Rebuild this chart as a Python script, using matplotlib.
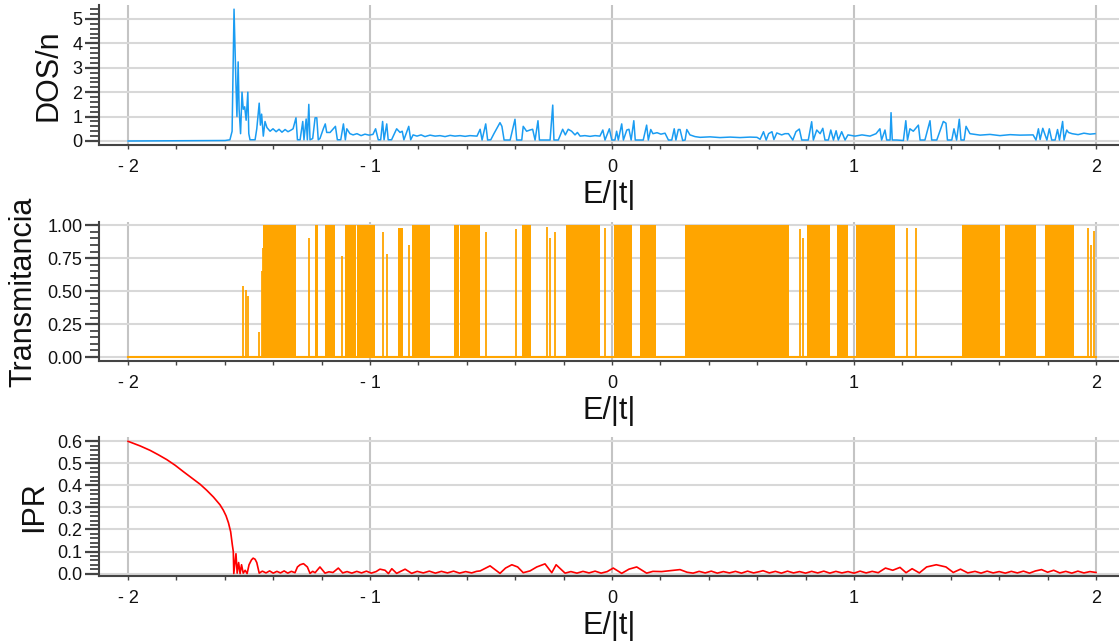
import matplotlib
matplotlib.use("Agg")
import matplotlib.pyplot as plt
from matplotlib.ticker import MultipleLocator, FixedLocator, FormatStrFormatter

plt.rcParams['font.family'] = ['Liberation Sans', 'DejaVu Sans']

# ---------------- data ----------------
x_ticks = [-2, -1, 0, 1, 2]
x_ticklabels = ["- 2", "- 1", "0", "1", "2"]

dos_E = [-2.000, -1.599, -1.579, -1.570, -1.562, -1.554, -1.550, -1.545, -1.541, -1.535,
         -1.529, -1.524, -1.518, -1.512, -1.505, -1.501, -1.496, -1.475, -1.468, -1.458,
         -1.453, -1.448, -1.441, -1.434, -1.426, -1.413, -1.401, -1.388, -1.376, -1.364,
         -1.351, -1.339, -1.326, -1.318, -1.306, -1.300, -1.289, -1.278, -1.273, -1.264,
         -1.259, -1.253, -1.248, -1.237, -1.227, -1.220, -1.214, -1.207, -1.193, -1.185,
         -1.179, -1.165, -1.152, -1.143, -1.135, -1.121, -1.110, -1.102, -1.096, -1.083,
         -1.070, -1.054, -1.037, -1.021, -1.004, -0.988, -0.977, -0.966, -0.956, -0.948,
         -0.942, -0.931, -0.925, -0.911, -0.890, -0.876, -0.867, -0.860, -0.840, -0.832,
         -0.822, -0.806, -0.789, -0.773, -0.752, -0.731, -0.711, -0.690, -0.669, -0.649,
         -0.628, -0.607, -0.587, -0.558, -0.545, -0.537, -0.522, -0.514, -0.501, -0.488,
         -0.463, -0.455, -0.446, -0.421, -0.401, -0.394, -0.373, -0.367, -0.353, -0.339,
         -0.328, -0.318, -0.306, -0.300, -0.277, -0.256, -0.245, -0.240, -0.222, -0.204,
         -0.193, -0.181, -0.167, -0.153, -0.143, -0.132, -0.112, -0.091, -0.070, -0.050,
         -0.038, -0.029, -0.011, -0.001, 0.012, 0.019, 0.026, 0.040, 0.047, 0.061,
         0.070, 0.079, 0.090, 0.096, 0.116, 0.129, 0.143, 0.150, 0.160, 0.169,
         0.186, 0.202, 0.219, 0.233, 0.247, 0.257, 0.264, 0.274, 0.281, 0.292,
         0.302, 0.309, 0.322, 0.343, 0.364, 0.405, 0.446, 0.488, 0.529, 0.570,
         0.599, 0.612, 0.626, 0.637, 0.647, 0.661, 0.669, 0.681, 0.701, 0.715,
         0.729, 0.747, 0.760, 0.774, 0.784, 0.798, 0.811, 0.825, 0.832, 0.846,
         0.860, 0.871, 0.880, 0.894, 0.904, 0.915, 0.926, 0.935, 0.949, 0.963,
         0.975, 1.004, 1.033, 1.066, 1.091, 1.107, 1.114, 1.128, 1.135, 1.149,
         1.153, 1.158, 1.177, 1.204, 1.214, 1.221, 1.231, 1.245, 1.266, 1.273,
         1.293, 1.314, 1.321, 1.342, 1.369, 1.380, 1.386, 1.404, 1.413, 1.424,
         1.435, 1.442, 1.455, 1.463, 1.479, 1.521, 1.562, 1.603, 1.645, 1.686,
         1.740, 1.752, 1.762, 1.769, 1.780, 1.797, 1.807, 1.817, 1.831, 1.841,
         1.849, 1.862, 1.868, 1.879, 1.886, 1.901, 1.926, 1.950, 1.975, 1.996]
dos_val = [0.00, 0.02, 0.05, 0.40, 5.40, 2.30, 1.00, 3.24, 1.30, 0.30,
           2.00, 1.30, 1.40, 0.85, 2.00, 0.30, 0.05, 0.05, 0.50, 1.55,
           0.65, 1.10, 0.20, 0.80, 0.55, 0.40, 0.50, 0.38, 0.48, 0.36,
           0.47, 0.38, 0.45, 0.50, 0.95, 0.05, 0.05, 0.80, 0.05, 0.90,
           0.05, 1.50, 0.05, 0.10, 0.95, 0.95, 0.05, 0.10, 0.50, 0.70,
           0.35, 0.35, 0.50, 0.60, 0.05, 0.05, 0.70, 0.05, 0.50, 0.30,
           0.25, 0.30, 0.22, 0.28, 0.24, 0.27, 0.50, 0.05, 0.05, 0.80,
           0.05, 0.70, 0.05, 0.05, 0.50, 0.35, 0.40, 0.05, 0.60, 0.05,
           0.25, 0.20, 0.25, 0.18, 0.24, 0.20, 0.22, 0.18, 0.23, 0.20,
           0.22, 0.19, 0.22, 0.20, 0.48, 0.04, 0.70, 0.04, 0.05, 0.30,
           0.75, 0.60, 0.04, 0.04, 0.89, 0.04, 0.04, 0.60, 0.40, 0.45,
           0.48, 0.04, 0.83, 0.04, 0.04, 0.04, 1.47, 0.04, 0.04, 0.48,
           0.25, 0.48, 0.40, 0.25, 0.35, 0.20, 0.22, 0.19, 0.22, 0.20,
           0.45, 0.04, 0.50, 0.04, 0.04, 0.40, 0.04, 0.70, 0.04, 0.45,
           0.48, 0.04, 0.83, 0.04, 0.04, 0.04, 0.65, 0.04, 0.47, 0.30,
           0.34, 0.28, 0.32, 0.04, 0.04, 0.50, 0.04, 0.47, 0.47, 0.02,
           0.04, 0.47, 0.25, 0.18, 0.15, 0.17, 0.14, 0.16, 0.14, 0.16,
           0.15, 0.07, 0.38, 0.04, 0.30, 0.38, 0.06, 0.33, 0.25, 0.30,
           0.30, 0.04, 0.38, 0.49, 0.04, 0.04, 0.04, 0.79, 0.04, 0.45,
           0.30, 0.52, 0.04, 0.04, 0.45, 0.04, 0.42, 0.04, 0.38, 0.04,
           0.25, 0.20, 0.25, 0.20, 0.30, 0.50, 0.04, 0.45, 0.04, 0.04,
           1.16, 0.04, 0.04, 0.02, 0.83, 0.04, 0.50, 0.40, 0.65, 0.04,
           0.04, 0.83, 0.04, 0.04, 0.80, 0.73, 0.04, 0.04, 0.50, 0.04,
           0.89, 0.04, 0.04, 0.60, 0.30, 0.24, 0.27, 0.22, 0.26, 0.24,
           0.25, 0.04, 0.50, 0.06, 0.52, 0.04, 0.50, 0.04, 0.04, 0.47,
           0.04, 0.80, 0.04, 0.45, 0.35, 0.30, 0.26, 0.32, 0.28, 0.30]

# transmittance: energy windows where T oscillates densely between 0 and its top value
T_band_start = [-1.441, -1.227, -1.186, -1.103, -1.055, -0.884, -0.827, -0.654, -0.630,
                -0.370, -0.190, 0.008, 0.115, 0.300, 0.805, 0.930, 1.010, 1.445, 1.625, 1.790]
T_band_end   = [-1.307, -1.215, -1.145, -1.057, -0.980, -0.865, -0.752, -0.633, -0.545,
                -0.335, -0.050, 0.083, 0.180, 0.730, 0.900, 0.975, 1.170, 1.605, 1.750, 1.910]
T_band_top   = [1.00, 1.00, 1.00, 1.00, 1.00, 0.98, 1.00, 1.00, 1.00,
                1.00, 1.00, 1.00, 1.00, 1.00, 1.00, 1.00, 1.00, 1.00, 1.00, 1.00]
# isolated transmission resonances
T_spike_E = [-1.526, -1.514, -1.503, -1.458, -1.448, -1.443, -1.253, -1.117, -0.948, -0.929,
             -0.838, -0.521, -0.395, -0.270, -0.255, -0.235, -0.027, 0.775, 0.790, 1.220,
             1.255, 1.965, 1.978, 1.992]
T_spike_val = [0.54, 0.51, 0.46, 0.19, 0.65, 0.83, 0.90, 0.77, 0.95, 0.78,
               0.85, 0.95, 0.97, 0.99, 0.90, 0.95, 0.98, 0.97, 0.90, 0.98,
               0.98, 0.98, 0.85, 0.96]

ipr_E = [-2.000, -1.950, -1.909, -1.875, -1.840, -1.805, -1.771, -1.737, -1.702, -1.675,
         -1.647, -1.620, -1.606, -1.595, -1.585, -1.576, -1.569, -1.565, -1.563, -1.554,
         -1.549, -1.543, -1.537, -1.531, -1.524, -1.516, -1.508, -1.500, -1.490, -1.483,
         -1.475, -1.468, -1.458, -1.445, -1.430, -1.415, -1.400, -1.385, -1.370, -1.355,
         -1.340, -1.325, -1.310, -1.300, -1.289, -1.275, -1.259, -1.248, -1.237, -1.227,
         -1.207, -1.186, -1.170, -1.153, -1.131, -1.113, -1.095, -1.075, -1.055, -1.035,
         -1.015, -0.995, -0.975, -0.959, -0.938, -0.924, -0.910, -0.890, -0.855, -0.828,
         -0.805, -0.780, -0.755, -0.730, -0.705, -0.680, -0.655, -0.630, -0.605, -0.580,
         -0.560, -0.545, -0.504, -0.463, -0.440, -0.414, -0.390, -0.367, -0.339, -0.311,
         -0.277, -0.249, -0.231, -0.194, -0.170, -0.145, -0.120, -0.095, -0.070, -0.045,
         -0.020, 0.005, 0.040, 0.070, 0.102, 0.143, 0.169, 0.205, 0.240, 0.281,
         0.310, 0.335, 0.360, 0.385, 0.410, 0.435, 0.460, 0.485, 0.510, 0.535,
         0.560, 0.585, 0.610, 0.624, 0.650, 0.675, 0.700, 0.725, 0.750, 0.775,
         0.800, 0.825, 0.850, 0.875, 0.900, 0.925, 0.950, 0.975, 1.000, 1.025,
         1.050, 1.075, 1.100, 1.130, 1.160, 1.190, 1.215, 1.240, 1.270, 1.300,
         1.340, 1.380, 1.410, 1.440, 1.470, 1.500, 1.525, 1.550, 1.575, 1.600,
         1.625, 1.650, 1.675, 1.700, 1.725, 1.750, 1.775, 1.800, 1.825, 1.850,
         1.875, 1.900, 1.925, 1.950, 1.975, 2.000]
ipr_val = [0.600, 0.579, 0.559, 0.539, 0.517, 0.491, 0.462, 0.434, 0.405, 0.378,
           0.347, 0.312, 0.287, 0.262, 0.230, 0.190, 0.130, 0.100, 0.000, 0.090,
           0.002, 0.050, 0.000, 0.040, 0.002, 0.015, 0.000, 0.040, 0.062, 0.070,
           0.065, 0.050, 0.002, 0.011, 0.003, 0.012, 0.002, 0.010, 0.003, 0.012,
           0.002, 0.010, 0.004, 0.030, 0.040, 0.045, 0.030, 0.001, 0.010, 0.004,
           0.030, 0.002, 0.008, 0.005, 0.025, 0.003, 0.009, 0.002, 0.010, 0.003,
           0.011, 0.002, 0.009, 0.020, 0.015, 0.000, 0.022, 0.001, 0.020, 0.001,
           0.010, 0.003, 0.011, 0.002, 0.010, 0.003, 0.011, 0.002, 0.009, 0.003,
           0.010, 0.012, 0.035, 0.001, 0.025, 0.040, 0.030, 0.004, 0.012, 0.030,
           0.044, 0.004, 0.040, 0.002, 0.009, 0.002, 0.010, 0.003, 0.011, 0.002,
           0.009, 0.025, 0.001, 0.020, 0.030, 0.002, 0.010, 0.009, 0.013, 0.018,
           0.006, 0.002, 0.010, 0.003, 0.011, 0.002, 0.009, 0.003, 0.010, 0.002,
           0.011, 0.003, 0.009, 0.013, 0.003, 0.010, 0.002, 0.011, 0.003, 0.009,
           0.002, 0.010, 0.003, 0.011, 0.002, 0.010, 0.003, 0.009, 0.002, 0.011,
           0.003, 0.010, 0.004, 0.025, 0.015, 0.028, 0.004, 0.022, 0.003, 0.030,
           0.040, 0.030, 0.005, 0.020, 0.003, 0.010, 0.002, 0.011, 0.003, 0.009,
           0.002, 0.010, 0.003, 0.011, 0.002, 0.012, 0.018, 0.006, 0.015, 0.003,
           0.010, 0.002, 0.011, 0.003, 0.009, 0.005]

# ---------------- figure ----------------
W, H = 1119, 644
fig = plt.figure(figsize=(W / 100, H / 100), dpi=100)


def add_axes(left_px, top_px, bottom_px):
    return fig.add_axes([left_px / W, 1 - bottom_px / H, 1 - left_px / W,
                         (bottom_px - top_px) / H])


ax1 = add_axes(99, 5, 145)
ax2 = add_axes(99, 222, 361)
ax3 = add_axes(99, 437, 576)

AXC = '#444444'


def style(ax, ylim, ymaj, ymin, fmt, ylabel):
    ax.set_xlim(-2.12, 2.095)
    ax.set_ylim(*ylim)
    for s in ['top', 'right']:
        ax.spines[s].set_visible(False)
    for s in ['left', 'bottom']:
        ax.spines[s].set_color(AXC)
        ax.spines[s].set_linewidth(1.5)
    ax.xaxis.set_major_locator(FixedLocator(x_ticks))
    ax.set_xticklabels(x_ticklabels)
    ax.xaxis.set_minor_locator(MultipleLocator(0.2))
    ax.yaxis.set_major_locator(MultipleLocator(ymaj))
    ax.yaxis.set_minor_locator(MultipleLocator(ymin))
    ax.yaxis.set_major_formatter(FormatStrFormatter(fmt))
    ax.tick_params(axis='y', which='major', length=10, width=1.6, color=AXC,
                   labelsize=13, pad=2, labelcolor='#111111')
    ax.tick_params(axis='y', which='minor', length=6.5, width=1.3, color=AXC)
    ax.tick_params(axis='x', which='both', length=3, width=1, color=AXC,
                   labelsize=13, pad=7, labelcolor='#111111')
    ax.grid(True, which='major', axis='y', color='#d8d8d8', lw=1.5)
    ax.grid(True, which='major', axis='x', color='#c4c4c4', lw=1.5)
    ax.set_axisbelow(True)
    ax.set_xlabel('E/|t|', fontsize=22, labelpad=3, color='#111111')
    ax.set_ylabel(ylabel, fontsize=22, labelpad=6, color='#111111')


# DOS
ax1.plot(dos_E, dos_val, color='#1a9cf2', lw=1.1)
style(ax1, (-0.164, 5.57), 1, 0.2, '%d', 'DOS/n')

# Transmittance
ax2.plot([-2, 2], [0, 0], color='#ffa500', lw=1.5)
for s, e, t in zip(T_band_start, T_band_end, T_band_top):
    ax2.fill_between([s, e], 0, t, color='#ffa500', lw=0)
ax2.vlines(T_spike_E, 0, T_spike_val, color='#ffa500', lw=1.3)
style(ax2, (-0.03, 1.025), 0.25, 0.05, '%.2f', 'Transmitancia')

# IPR
ax3.plot(ipr_E, ipr_val, color='#ff0000', lw=1.2)
style(ax3, (-0.011, 0.6195), 0.1, 0.02, '%.1f', 'IPR')

fig.savefig('out.png', dpi=100)
